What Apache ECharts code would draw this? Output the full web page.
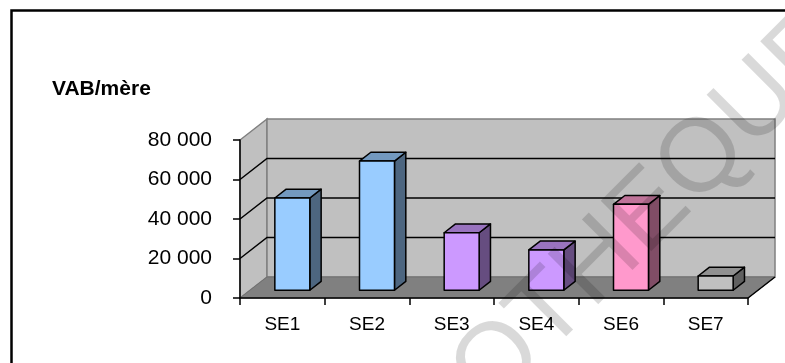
<!DOCTYPE html>
<html>
<head>
<meta charset="utf-8">
<script src="https://cdn.jsdelivr.net/npm/echarts@6/dist/echarts.min.js"></script>
<style>
  html, body { margin: 0; padding: 0; background: #fff; }
  #chart { width: 785px; height: 363px; }
</style>
</head>
<body>
<div id="chart"></div>
<script>
// VAB par mère, par système d'élevage
const categories = ['SE1', 'SE2', 'SE3', 'SE4', 'SE6', 'SE7'];
const vabValues = [46700, 65400, 29100, 20400, 43500, 7200];
const yTicks = [0, 20000, 40000, 60000, 80000];
const titleText = 'VAB/mère';
const watermarkText = 'BIBLIOTHEQUE';

// face colours per bar: [front, top, side]
const barFaces = [
  ['#99CCFF', '#7399BF', '#4D6680'],
  ['#99CCFF', '#7399BF', '#4D6680'],
  ['#CC99FF', '#9973BF', '#664D80'],
  ['#CC99FF', '#9973BF', '#664D80'],
  ['#FF99CC', '#BF7399', '#804D66'],
  ['#C0C0C0', '#909090', '#606060']
];

// perspective depth of the plot box (pixels)
const DX = 27, DY = 21;
// bar depth placement within the box (fraction of depth)
const BAR_FRONT = 0.37, BAR_BACK = 0.79, BAR_WIDTH = 0.413;

const FONT = '"Liberation Sans", Arial, sans-serif';
const fmt = v => String(v).replace(/\B(?=(\d{3})+(?!\d))/g, ' ');

const chart = echarts.init(document.getElementById('chart'));

function renderWalls(params, api) {
  const cs = params.coordSys;
  const x0 = cs.x, x1 = cs.x + cs.width;
  const yBot = cs.y + cs.height, yTop = cs.y;
  const children = [];
  // left side wall
  children.push({
    type: 'polygon',
    shape: { points: [[x0, yBot], [x0, yTop], [x0 + DX, yTop - DY], [x0 + DX, yBot - DY]] },
    style: { fill: '#C0C0C0', stroke: '#808080', lineWidth: 1.5 }
  });
  // back wall
  children.push({
    type: 'rect',
    shape: { x: x0 + DX, y: yTop - DY, width: cs.width, height: cs.height },
    style: { fill: '#C0C0C0', stroke: '#808080', lineWidth: 1.5 }
  });
  // floor
  children.push({
    type: 'polygon',
    shape: { points: [[x0, yBot], [x1, yBot], [x1 + DX, yBot - DY], [x0 + DX, yBot - DY]] },
    style: { fill: '#808080', stroke: '#707070', lineWidth: 1 }
  });
  // floor right edge
  children.push({
    type: 'line',
    shape: { x1: x1, y1: yBot, x2: x1 + DX, y2: yBot - DY },
    style: { stroke: '#000', lineWidth: 1.5 }
  });
  // gridlines on side and back walls
  yTicks.forEach(v => {
    if (v === 0 || v === yTicks[yTicks.length - 1]) return;
    const y = api.coord([0, v])[1];
    children.push({
      type: 'polyline',
      shape: { points: [[x0, y], [x0 + DX, y - DY], [x1 + DX, y - DY]] },
      style: { stroke: '#000', lineWidth: 1.5, fill: null }
    });
  });
  return { type: 'group', children: children };
}

function renderBar(params, api) {
  const idx = api.value(0);
  const val = api.value(1);
  const base = api.coord([idx, 0]);
  const top = api.coord([idx, val]);
  const band = api.size([1, 0])[0];
  const w = band * BAR_WIDTH;
  const fx = DX * BAR_FRONT, fy = DY * BAR_FRONT;
  const bx = DX * BAR_BACK, by = DY * BAR_BACK;
  const sx = bx - fx, sy = by - fy;
  const xl = base[0] - w / 2 + fx, xr = xl + w;
  const yb = base[1] - fy, yt = top[1] - fy;
  const c = barFaces[params.dataIndex];
  const line = { stroke: '#000', lineWidth: 1.5, lineJoin: 'round' };
  return {
    type: 'group',
    children: [
      {
        type: 'polygon',
        shape: { points: [[xr, yb], [xr, yt], [xr + sx, yt - sy], [xr + sx, yb - sy]] },
        style: Object.assign({ fill: c[2] }, line)
      },
      {
        type: 'polygon',
        shape: { points: [[xl, yt], [xr, yt], [xr + sx, yt - sy], [xl + sx, yt - sy]] },
        style: Object.assign({ fill: c[1] }, line)
      },
      {
        type: 'rect',
        shape: { x: xl, y: yt, width: w, height: yb - yt },
        style: Object.assign({ fill: c[0] }, line)
      }
    ]
  };
}

const option = {
  animation: false,
  backgroundColor: '#fff',
  title: {
    text: titleText,
    left: 47,
    top: 74,
    textStyle: { fontFamily: FONT, fontSize: 21, fontWeight: 'bold', color: '#000' }
  },
  grid: { left: 240, top: 140, width: 508, height: 158, containLabel: false },
  xAxis: {
    type: 'category',
    data: categories,
    z: 10,
    axisLine: { lineStyle: { color: '#000', width: 1.5 } },
    axisTick: { show: true, length: 7, lineStyle: { color: '#000', width: 1.5 } },
    axisLabel: { fontFamily: FONT, fontSize: 19, color: '#000', margin: 17 },
    splitLine: { show: false }
  },
  yAxis: {
    type: 'value',
    min: 0,
    max: 80000,
    interval: 20000,
    z: 10,
    axisLine: { show: true, lineStyle: { color: '#000', width: 1.5 } },
    axisTick: { show: true, length: 7, lineStyle: { color: '#000', width: 1.5 } },
    axisLabel: {
      fontFamily: FONT, fontSize: 21, color: '#000', margin: 28,
      padding: [5, 0, 0, 0], formatter: fmt
    },
    splitLine: { show: false }
  },
  series: [
    {
      type: 'custom',
      name: 'walls',
      silent: true,
      z: 1,
      renderItem: renderWalls,
      data: [[0, 0]]
    },
    {
      type: 'custom',
      name: 'VAB/mère',
      z: 2,
      renderItem: renderBar,
      encode: { x: 0, y: 1 },
      data: vabValues.map((v, i) => [i, v])
    }
  ],
  graphic: [
    {
      type: 'rect',
      z: 100,
      silent: true,
      shape: { x: 11.5, y: 10.5, width: 800, height: 400 },
      style: { fill: null, stroke: '#000', lineWidth: 2.5 }
    },
    {
      type: 'text',
      z: 100,
      silent: true,
      x: 290,
      y: 572,
      rotation: Math.PI / 4,
      style: {
        text: watermarkText,
        font: '104px ' + FONT,
        fill: 'rgba(0,0,0,0.15)',
        align: 'left',
        verticalAlign: 'middle'
      }
    }
  ]
};

chart.setOption(option);
</script>
</body>
</html>
